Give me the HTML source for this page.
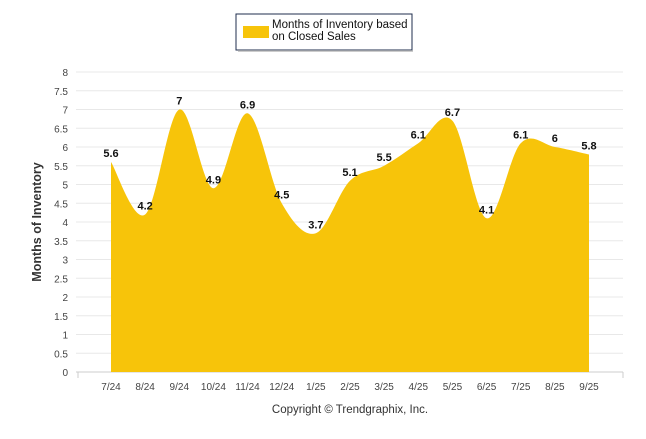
<!DOCTYPE html>
<html><head><meta charset="utf-8"><style>
body{margin:0;background:#fff;font-family:"Liberation Sans",sans-serif}
svg text{font-family:"Liberation Sans",sans-serif}
</style></head><body>
<svg width="646" height="434" viewBox="0 0 646 434">
<g>
<rect x="236" y="14" width="176" height="36" fill="#fff" stroke="#1f2d4d" stroke-width="1"/>
<rect x="238" y="50" width="175" height="2" fill="#999" opacity="0.5"/>
<rect x="243" y="26" width="26" height="12" fill="#f7c40a"/>
<text x="272" y="28" font-size="11.5" fill="#111">Months of Inventory based</text>
<text x="272" y="40" font-size="11.5" fill="#111">on Closed Sales</text>
</g>
<g id="grid"></g>
<g id="yt"></g>
<g id="xt"></g>
<path id="area" fill="#f7c40a"/>
<g id="lbl"></g>
<text transform="translate(41,222) rotate(-90)" text-anchor="middle" font-size="12.5" font-weight="bold" fill="#333">Months of Inventory</text>
<text x="350" y="413" text-anchor="middle" font-size="11.5" fill="#333">Copyright © Trendgraphix, Inc.</text>
</svg>
<script>
const categories=["7/24","8/24","9/24","10/24","11/24","12/24","1/25","2/25","3/25","4/25","5/25","6/25","7/25","8/25","9/25"];
const values=[5.6,4.2,7,4.9,6.9,4.5,3.7,5.1,5.5,6.1,6.7,4.1,6.1,6,5.8];
const yTicks=[0,0.5,1,1.5,2,2.5,3,3.5,4,4.5,5,5.5,6,6.5,7,7.5,8];
const NS="http://www.w3.org/2000/svg";
const X=i=>111+i*(589-111)/(categories.length-1);
const Y=v=>372-v*300/8;
function mk(t,a,p){const e=document.createElementNS(NS,t);for(const k in a)e.setAttribute(k,a[k]);p.appendChild(e);return e;}
const grid=document.getElementById('grid'),yt=document.getElementById('yt'),xt=document.getElementById('xt');
yTicks.forEach(v=>{
 const l=mk('line',{x1:76,x2:623,y1:Y(v),y2:Y(v),stroke:v===0?'#ccc':'#e8e8e8','stroke-width':1},grid);
 
 
 const t=mk('text',{x:68,y:Y(v)+4,'text-anchor':'end','font-size':10,fill:'#444'},yt);
 t.textContent=v;
 
 
});
mk('line',{x1:78,x2:78,y1:372,y2:378,stroke:'#ccc'},grid);
mk('line',{x1:623,x2:623,y1:372,y2:378,stroke:'#ccc'},grid);
categories.forEach((c,i)=>{
 const t=mk('text',{x:X(i),y:390,'text-anchor':'middle','font-size':10,fill:'#444'},xt);
 t.textContent=c;
 
 
});
const pts=values.map((v,i)=>[X(i),Y(v)]);
let d=`M${pts[0][0]},372 L${pts[0][0]},${pts[0][1]}`;
for(let i=0;i<pts.length-1;i++){
 const p0=pts[i-1]||pts[i],p1=pts[i],p2=pts[i+1],p3=pts[i+2]||p2;
 const k=1/6;
 d+=` C${p1[0]+(p2[0]-p0[0])*k},${p1[1]+(p2[1]-p0[1])*k} ${p2[0]-(p3[0]-p1[0])*k},${p2[1]-(p3[1]-p1[1])*k} ${p2[0]},${p2[1]}`;
}
d+=` L${pts[pts.length-1][0]},372 Z`;
document.getElementById('area').setAttribute('d',d);
const lbl=document.getElementById('lbl');
values.forEach((v,i)=>{
 const t=mk('text',{x:X(i),y:Y(v)-5,'text-anchor':'middle','font-size':11,'font-weight':'bold',fill:'#111'},lbl);
 t.textContent=v;
 
 
});
</script>
</body></html>
